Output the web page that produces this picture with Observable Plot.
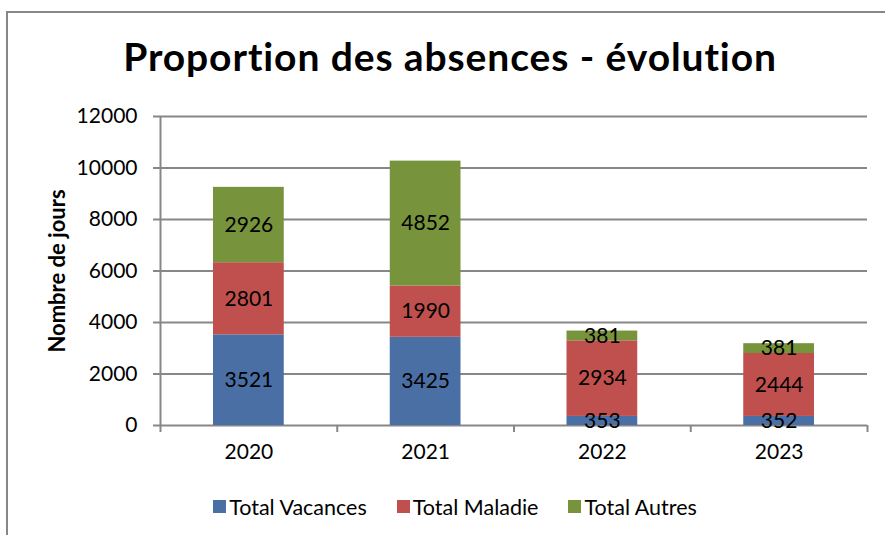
<!DOCTYPE html>
<html><head><meta charset="utf-8">
<script src="https://cdn.jsdelivr.net/npm/d3@7"></script>
<script src="https://cdn.jsdelivr.net/npm/@observablehq/plot@0.6"></script>
<style>
html,body{margin:0;padding:0;background:#fff;}
#wrap{position:relative;width:885px;height:535px;overflow:hidden;font-family:Lato,sans-serif;color:#000;}
#frame{position:absolute;left:6px;top:11px;right:-10px;bottom:-10px;border-top:2px solid #878787;border-left:2px solid #878787;pointer-events:none;}
#title{height:90px;position:relative;}
#title div{position:absolute;left:15px;right:0;top:37px;text-align:center;font-weight:bold;font-size:39px;line-height:39px;letter-spacing:0.9px;white-space:nowrap;}
#chart svg{display:block;}
#legend{display:flex;justify-content:center;align-items:center;height:57px;padding-top:3px;padding-left:25px;font-size:21.5px;}
.item{display:flex;align-items:center;margin:0 15px;}
.sw{width:13px;height:13px;margin-right:3px;}
</style></head>
<body><div id="wrap"><div id="frame"></div><div id="title"><div></div></div><div id="chart"></div><div id="legend"></div></div>
<script>
const years = ["2020", "2021", "2022", "2023"];
const seriesNames = ["Total Vacances", "Total Maladie", "Total Autres"];
const vacances = [3521, 3425, 353, 352];
const maladie = [2801, 1990, 2934, 2444];
const autres = [2926, 4852, 381, 381];
const colors = ["#4A6FA5", "#C0504D", "#77933C"];
const yTicks = [0, 2000, 4000, 6000, 8000, 10000, 12000];
const titleText = "Proportion des absences - évolution";
const yLabel = "Nombre de jours";

const seriesValues = [vacances, maladie, autres];
const data = years.flatMap((year, i) => seriesValues.map((vals, k) => ({i, year, series: seriesNames[k], value: vals[i]})));

const grid = "#878787";
const chart = Plot.plot({
  width: 885, height: 385,
  marginTop: 26, marginBottom: 50, marginLeft: 160, marginRight: 18,
  style: {fontFamily: "Lato, sans-serif", fontSize: "21px", background: "transparent", color: "#000", overflow: "visible"},
  x: {type: "linear", domain: [0, years.length]},
  y: {domain: [0, 12000]},
  color: {domain: seriesNames, range: colors},
  marks: [
    Plot.ruleY(yTicks, {stroke: grid, strokeWidth: 2}),
    Plot.axisY(yTicks, {tickSize: 7, tickPadding: 16, stroke: grid, strokeWidth: 2, fill: "#000", label: null, tickFormat: d => String(d)}),
    Plot.axisX(d3.range(years.length + 1), {tickSize: 7, tickFormat: () => "", stroke: grid, strokeWidth: 2, label: null}),
    Plot.rectY(data, {x: "i", interval: 1, y: "value", fill: "series", insetLeft: 53, insetRight: 53}),
    Plot.text(data, Plot.stackY({x: d => d.i + 0.5, y: "value", text: d => String(d.value), fill: "#000", fontSize: 21})),
    Plot.ruleX([0], {stroke: grid, strokeWidth: 2}),
    Plot.text(years, {x: (d, i) => i + 0.5, text: d => d, frameAnchor: "bottom", dy: 33, fontSize: 21, fill: "#000"}),
    Plot.text([yLabel], {frameAnchor: "left", textAnchor: "middle", rotate: -90, dx: -103, fontWeight: "bold", fontSize: 22, fill: "#000"})
  ]
});
document.getElementById("chart").appendChild(chart);
document.querySelector("#title div").textContent = titleText;
const legend = document.getElementById("legend");
seriesNames.forEach((name, k) => {
  const item = document.createElement("div");
  item.className = "item";
  const sw = document.createElement("span");
  sw.className = "sw";
  sw.style.background = colors[k];
  const label = document.createElement("span");
  label.textContent = name;
  item.appendChild(sw);
  item.appendChild(label);
  legend.appendChild(item);
});
</script>
</body></html>
